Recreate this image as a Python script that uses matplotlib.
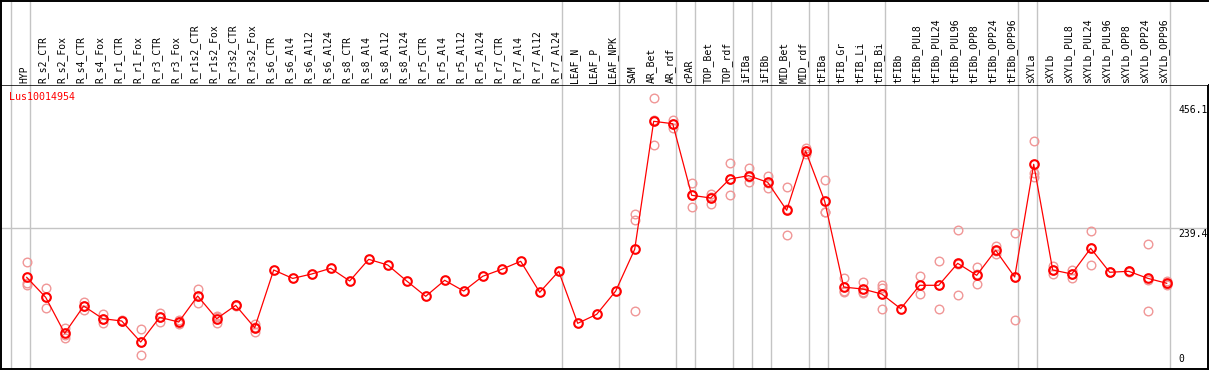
import matplotlib
matplotlib.use("Agg")
import matplotlib.pyplot as plt

# ── data ──────────────────────────────────────────────────────────────
samples = [
    "HYP", "R_s2_CTR", "R_s2_Fox", "R_s4_CTR", "R_s4_Fox", "R_r1_CTR", "R_r1_Fox",
    "R_r3_CTR", "R_r3_Fox", "R_r1s2_CTR", "R_r1s2_Fox", "R_r3s2_CTR", "R_r3s2_Fox",
    "R_s6_CTR", "R_s6_Al4", "R_s6_Al12", "R_s6_Al24", "R_s8_CTR", "R_s8_Al4",
    "R_s8_Al12", "R_s8_Al24", "R_r5_CTR", "R_r5_Al4", "R_r5_Al12", "R_r5_Al24",
    "R_r7_CTR", "R_r7_Al4", "R_r7_Al12", "R_r7_Al24", "LEAF_N", "LEAF_P", "LEAF_NPK",
    "SAM", "AR_Bet", "AR_rdf", "cPAR", "TOP_Bet", "TOP_rdf", "iFIBa", "iFIBb",
    "MID_Bet", "MID_rdf", "tFIBa", "tFIB_Gr", "tFIB_Li", "tFIB_Bi", "tFIBb",
    "tFIBb_PUL8", "tFIBb_PUL24", "tFIBb_PUL96", "tFIBb_OPP8", "tFIBb_OPP24",
    "tFIBb_OPP96", "sXYLa", "sXYLb", "sXYLb_PUL8", "sXYLb_PUL24", "sXYLb_PUL96",
    "sXYLb_OPP8", "sXYLb_OPP24", "sXYLb_OPP96",
]

means = [
    153.9, 119.0, 56.3, 103.9, 81.8, 77.8, 41.1, 84.2, 76.0, 121.3, 81.8, 105.0, 66.0,
    166.7, 152.0, 159.7, 169.6, 147.5, 185.3, 175.4, 147.5, 120.8, 148.7, 130.0, 155.7,
    167.9, 181.8, 127.8, 164.4, 73.7, 89.4, 130.0,
    202.8, 425.9, 421.7, 296.9, 292.2, 325.3, 331.1, 319.6, 270.7, 374.1, 286.4,
    136.9, 133.5, 124.8, 99.2, 140.0, 140.0, 178.3, 157.4, 201.0, 154.5,
    350.9, 166.7, 159.7, 204.5, 162.7, 164.4, 152.2, 143.5,
]

replicates = [
    [180, 144.5, 140], [135.8, 101, 119], [66, 48.6, 54], [110.3, 97, 104],
    [90, 74.3, 81], [79, 77, 77.5], [63.3, 18, 42], [91.7, 76, 85],
    [79.5, 72, 76.5], [133, 108.6, 122], [85, 74.3, 86], [106, 104, 105],
    [72, 58, 68],
    [], [], [], [], [], [], [], [], [], [], [], [], [], [], [], [], [], [], [],
    [264, 254, 95], [466, 384, 428], [428.7, 414.7, 421.7], [317.8, 276, 297],
    [299.7, 282.3, 294.6], [353.2, 296.9, 325.8], [344, 320.6, 328.7],
    [330.5, 309.1, 319.2], [311.9, 227.7, 272.5], [379.4, 368.9, 374],
    [323.6, 268.3, 267.3], [152.7, 130, 128], [145.8, 126.6, 128.1],
    [140.5, 98.7, 135.2], [],
    [155.7, 124.3, 140], [181.8, 98.2, 140], [235.9, 122.6, 176.4],
    [171.4, 141.7, 159.1], [209, 194.6, 199.4], [230.6, 79, 153.9],
    [391.6, 335.3, 328.3], [173.6, 159.2, 167.3], [166.7, 152.7, 159.7],
    [234.1, 174.9, 204.5], [163, 162.5, 162.7], [165, 164, 164.2],
    [212, 95.2, 149.4], [148, 141.7, 140.8],
]

# group boundaries: a gray line is drawn right after these sample indices
group_ends = [-1, 0, 28, 31, 34, 35, 37, 38, 39, 41, 42, 45, 52, 53, 60]

y_ticks = [0, 239.4, 456.1]
y_tick_labels = ["0", "239.4", "456.1"]
gene_id = "Lus10014954"

# ── colours ───────────────────────────────────────────────────────────
C_LINE = "#ff0000"
C_REP = "#f09696"
C_GRID = "#c4c4c4"
FONT = "DejaVu Sans Mono"

W, H = 1209, 370
fig = plt.figure(figsize=(W / 100, H / 100), dpi=100)

# pixel geometry of the plot area
PX_L, PX_R = 1.0, 1207.5
PX_HDR, PX_BOT = 85.0, 369.0
X0, DX = 26.7, 19.0          # pixel x of first sample, pixel step
Y0, DY = 365.6, 0.5736       # pixel y of value 0, pixels per unit

x_lo, x_hi = (PX_L - X0) / DX, (PX_R - X0) / DX
y_lo, y_hi = (Y0 - PX_BOT) / DY, (Y0 - PX_HDR) / DY

ax = fig.add_axes([PX_L / W, (H - PX_BOT) / H, (PX_R - PX_L) / W, (PX_BOT - PX_HDR) / H])
hdr = fig.add_axes([PX_L / W, (H - PX_HDR) / H, (PX_R - PX_L) / W, PX_HDR / H - 0.002])

for a in (ax, hdr):
    a.set_xlim(x_lo, x_hi)
    a.set_xticks([])
    a.set_yticks([])
    for s in a.spines.values():
        s.set_linewidth(1.4)
        s.set_color("black")
hdr.spines["bottom"].set_visible(False)
hdr.spines["right"].set_visible(False)
ax.spines["top"].set_linewidth(1.1)
ax.set_ylim(y_lo, y_hi)
hdr.set_ylim(0, PX_HDR)

# separators
for g in group_ends:
    ax.axvline(g + 0.19, color=C_GRID, lw=1.0, zorder=1)
    hdr.axvline(g + 0.19, color=C_GRID, lw=1.0, zorder=1)
ax.axhline(239.4, color=C_GRID, lw=1.0, zorder=1)

# column labels
for i, name in enumerate(samples):
    hdr.text(i - 0.14, 2, name, rotation=90, ha="center", va="bottom",
             fontsize=7, family=FONT, color="black")

# replicates
for i, reps in enumerate(replicates):
    if reps:
        ax.plot([i] * len(reps), reps, linestyle="none", marker="o",
                markersize=6.2, markerfacecolor="none", markeredgecolor=C_REP,
                markeredgewidth=1.0, zorder=2)

# mean profile
ax.plot(range(len(means)), means, color=C_LINE, lw=0.9, marker="o",
        markersize=6.2, markerfacecolor="none", markeredgecolor=C_LINE,
        markeredgewidth=1.5, zorder=3)

# right-hand value labels
xt = (1178.5 - X0) / DX
for v, lab in zip(y_ticks, y_tick_labels):
    if v == 0:
        ax.text(xt, 3, lab, ha="left", va="bottom", fontsize=7, family=FONT)
    else:
        ax.text(xt, v - 1, lab, ha="left", va="top", fontsize=7, family=FONT)

fig.text(9.3 / W, 1 - 97 / H, gene_id, color=C_LINE, ha="left", va="center",
         fontsize=7.2, family=FONT)

fig.savefig("out.png", dpi=100)
